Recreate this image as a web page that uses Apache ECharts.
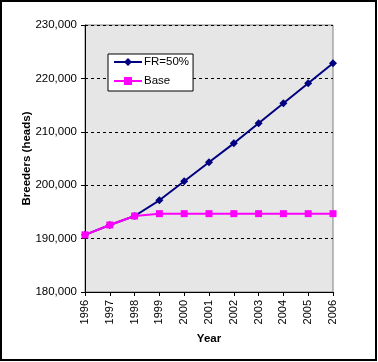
<!DOCTYPE html>
<html><head><meta charset="utf-8">
<script src="https://cdn.jsdelivr.net/npm/echarts@6/dist/echarts.min.js"></script>
<style>html,body{margin:0;padding:0;background:#fff}#c{width:378px;height:362px}</style>
</head><body><div id="c"></div>
<script>
var years = ['1996','1997','1998','1999','2000','2001','2002','2003','2004','2005','2006'];
var fr50 = [190700, 192550, 194230, 197170, 200730, 204300, 207840, 211600, 215330, 219080, 222830];
var base = [190700, 192550, 194230, 194670, 194670, 194670, 194670, 194670, 194670, 194670, 194670];
var yTicks = [180000, 190000, 200000, 210000, 220000, 230000];

var chart = echarts.init(document.getElementById('c'), null, {renderer:'canvas'});
var font = 'Liberation Sans, Arial, sans-serif';
chart.setOption({
  animation: false,
  textStyle: {fontFamily: font},
  graphic: [{type:'rect', shape:{x:1,y:1,width:375,height:359}, style:{fill:'none', stroke:'#000', lineWidth:2}, z:100}],
  grid: {left:85, top:25, width:248, height:267, show:true, backgroundColor:'#e6e6e6', borderColor:'#808080', borderWidth:1},
  legend: {
    left:108, top:54, orient:'vertical', backgroundColor:'#fff', borderColor:'#000', borderWidth:1,
    padding:[2,4,4,5], itemGap:7, itemWidth:28, itemHeight:10,
    textStyle:{fontFamily:font, fontSize:11.5, color:'#000', padding:[0,0,0,-3]},
    data:['FR=50%','Base']
  },
  xAxis: {
    type:'category', data: years, boundaryGap:false,
    name:'Year', nameLocation:'middle', nameGap:38,
    nameTextStyle:{fontFamily:font, fontSize:11.5, fontWeight:'bold', color:'#000'},
    axisLine:{lineStyle:{color:'#000', width:1}},
    axisTick:{show:true, length:4, alignWithLabel:true, lineStyle:{color:'#000'}},
    axisLabel:{rotate:90, fontSize:11, color:'#000', margin:8, fontFamily:font},
    splitLine:{show:false}
  },
  yAxis: {
    type:'value', min: yTicks[0], max: yTicks[yTicks.length-1], interval:10000,
    name:'Breeders (heads)', nameLocation:'middle', nameGap:52, nameMoveOverlap:false,
    nameTextStyle:{fontFamily:font, fontSize:11.5, fontWeight:'bold', color:'#000'},
    axisLine:{show:true, lineStyle:{color:'#000', width:1}},
    axisTick:{show:true, length:4, lineStyle:{color:'#000'}},
    axisLabel:{fontSize:11.5, color:'#000', margin:8, fontFamily:font,
      formatter:function(v){return v.toString().replace(/\B(?=(\d{3})+(?!\d))/g, ',');}},
    splitLine:{show:true, lineStyle:{color:'#000', type:[3,3], width:1}}
  },
  series: [
    {name:'FR=50%', type:'line', data: fr50, symbol:'diamond', symbolSize:8,
     lineStyle:{color:'#000080', width:2}, itemStyle:{color:'#000080'}, z:3},
    {name:'Base', type:'line', data: base, symbol:'rect', symbolSize:7,
     lineStyle:{color:'#ff00ff', width:2}, itemStyle:{color:'#ff00ff'}, z:4}
  ]
});
</script></body></html>
